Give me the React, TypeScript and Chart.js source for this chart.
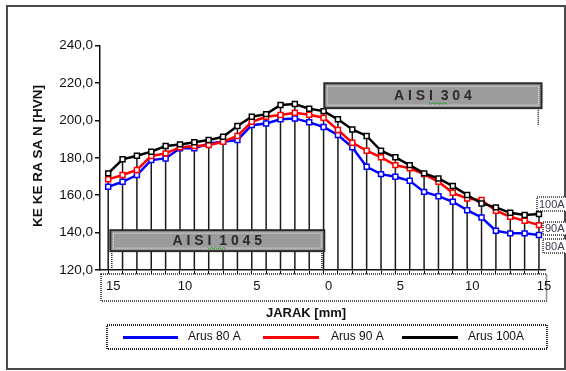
import React, { useEffect, useRef } from 'react';
import { Chart, registerables } from 'chart.js';

Chart.register(...registerables);

// Distance from weld centre [mm] (left: AISI 1045 side, right: AISI 304 side)
const distances = [-15, -14, -13, -12, -11, -10, -9, -8, -7, -6, -5, -4, -3, -2, -1, 0, 1, 2, 3, 4, 5, 6, 7, 8, 9, 10, 11, 12, 13, 14, 15];
const xLabelTicks = [-15, -10, -5, 0, 5, 10, 15];
const yTicks = [120, 140, 160, 180, 200, 220, 240];

const seriesNames = ['Arus 80 A', 'Arus 90 A', 'Arus 100A'];
const seriesColors = ['#0000ff', '#ff0000', '#000000'];
const endLabels = ['80A', '90A', '100A'];

const arus80 = [164.5, 167.2, 170.8, 178.8, 179.7, 185.1, 185.1, 187.7, 188.6, 189.5, 197.5, 198.4, 200.6, 201.1, 199.0, 196.5, 192.2, 185.6, 175.2, 171.3, 169.9, 167.7, 161.8, 159.5, 156.5, 152.0, 148.1, 141.0, 139.6, 139.6, 138.7];
const arus90 = [168.5, 170.8, 173.5, 181.0, 182.4, 185.6, 186.3, 186.8, 188.6, 191.7, 199.3, 202.0, 202.9, 204.1, 203.1, 201.5, 194.9, 188.1, 183.8, 180.3, 176.1, 174.4, 171.3, 167.2, 161.3, 158.3, 157.4, 151.7, 148.5, 146.3, 144.0];
const arus100 = [171.7, 179.2, 181.1, 183.3, 186.3, 187.2, 188.3, 189.5, 191.3, 197.0, 202.0, 203.4, 208.3, 208.8, 206.3, 205.0, 200.6, 195.2, 191.7, 183.8, 180.3, 176.1, 171.7, 169.0, 164.9, 160.1, 155.6, 153.5, 150.6, 149.4, 149.9];

const FONT = '"Liberation Sans", Arial, sans-serif';

function grayBox(ctx: CanvasRenderingContext2D, l: number, t: number, r: number, b: number, text: string) {
  ctx.save();
  ctx.fillStyle = '#9b9b9b';
  ctx.fillRect(l, t, r - l, b - t);
  ctx.setLineDash([]);
  ctx.strokeStyle = '#2a2a2a';
  ctx.lineWidth = 2;
  ctx.strokeRect(l, t, r - l, b - t);
  ctx.setLineDash([1, 1]);
  ctx.strokeStyle = '#f0f0f0';
  ctx.lineWidth = 1;
  ctx.strokeRect(l + 3, t + 3, r - l - 6, b - t - 6);
  ctx.setLineDash([]);
  ctx.font = `bold 14px ${FONT}`;
  ctx.fillStyle = '#2a2a2a';
  ctx.textBaseline = 'middle';
  ctx.textAlign = 'left';
  const cx = (l + r) / 2;
  const cy = (t + b) / 2;
  const w = ctx.measureText(text).width;
  const x0 = cx - w / 2;
  ctx.fillText(text, x0, cy + 0.5);
  // spell-check squiggle under "I  1"
  const parts = text.split('  ');
  const sx = x0 + ctx.measureText(parts[0].slice(0, -1)).width;
  const ex = x0 + ctx.measureText(parts[0] + '  ' + parts[1].charAt(0)).width;
  ctx.strokeStyle = '#2e9e2e';
  ctx.lineWidth = 1;
  ctx.beginPath();
  for (let x = sx, k = 0; x <= ex; x += 2, k++) {
    const y = cy + 7 + (k % 2 === 0 ? 0 : 1.5);
    if (k === 0) ctx.moveTo(x, y); else ctx.lineTo(x, y);
  }
  ctx.stroke();
  ctx.restore();
}

function dottedV(ctx: CanvasRenderingContext2D, x: number, y1: number, y2: number) {
  ctx.save();
  ctx.strokeStyle = '#222';
  ctx.lineWidth = 1.5;
  ctx.setLineDash([1, 1]);
  ctx.beginPath();
  ctx.moveTo(x, y1);
  ctx.lineTo(x, y2);
  ctx.stroke();
  ctx.restore();
}

const decoPlugin = {
  id: 'deco',
  beforeDraw(chart: any) {
    const { ctx } = chart;
    ctx.save();
    ctx.fillStyle = '#ffffff';
    ctx.fillRect(0, 0, chart.width, chart.height);
    ctx.strokeStyle = '#4a4a4a';
    ctx.lineWidth = 2;
    ctx.strokeRect(7, 6, 558, 363);
    ctx.restore();
  },
  beforeDatasetsDraw(chart: any) {
    const { ctx, chartArea } = chart;
    const metas = chart.getSortedVisibleDatasetMetas();
    if (!metas.length) return;
    ctx.save();
    ctx.strokeStyle = '#1a1a1a';
    ctx.lineWidth = 1.5;
    const n = metas[0].data.length;
    for (let i = 0; i < n; i++) {
      let top = Infinity;
      const x = metas[0].data[i].x;
      metas.forEach((m: any) => { top = Math.min(top, m.data[i].y); });
      ctx.beginPath();
      ctx.moveTo(x, top);
      ctx.lineTo(x, chartArea.bottom);
      ctx.stroke();
    }
    ctx.restore();
  },
  afterDraw(chart: any) {
    const { ctx, chartArea } = chart;
    const xs = chart.scales.x;
    const ys = chart.scales.y;
    const px = (v: number) => xs.getPixelForValue(v);
    const py = (v: number) => ys.getPixelForValue(v);

    // material boxes
    grayBox(ctx, px(-14.85), py(141.3), px(0.05), py(130.1), 'A I S I  1 0 4 5');
    grayBox(ctx, px(0.05), py(219.9), px(15.18), py(206.6), 'A I S I  3 0 4');
    dottedV(ctx, px(-14.75), py(130.1), chartArea.bottom);
    dottedV(ctx, px(-0.12), py(130.1), chartArea.bottom);
    dottedV(ctx, px(14.95), py(206.6), py(197.6));

    ctx.save();
    // dotted box around x tick labels
    ctx.strokeStyle = '#222';
    ctx.lineWidth = 1.5;
    ctx.setLineDash([1, 1]);
    ctx.strokeRect(101, chartArea.bottom + 4, chartArea.right + 1.5 - 101, 27);

    // end labels
    ctx.font = `11px ${FONT}`;
    ctx.textBaseline = 'middle';
    ctx.textAlign = 'left';
    const endBoxes = [
      { l: 543, t: 239, b: 253 },
      { l: 543, t: 222, b: 235 },
      { l: 537, t: 197, b: 211 },
    ];
    endBoxes.forEach((bx, i) => {
      ctx.fillStyle = '#ffffff';
      ctx.fillRect(bx.l, bx.t, 30, bx.b - bx.t);
      ctx.strokeStyle = '#333';
      ctx.lineWidth = 1.5;
      ctx.strokeRect(bx.l, bx.t, 30, bx.b - bx.t);
      ctx.fillStyle = '#3a3a50';
      ctx.fillText(endLabels[i], bx.l + 2, (bx.t + bx.b) / 2 + 0.5);
    });

    // legend
    ctx.strokeStyle = '#222';
    ctx.lineWidth = 2;
    ctx.strokeRect(107, 325, 440, 24);
    ctx.setLineDash([]);
    const legendPos = [
      { x1: 123, x2: 178, tx: 188 },
      { x1: 263, x2: 319, tx: 331 },
      { x1: 402, x2: 458, tx: 468 },
    ];
    ctx.font = `12px ${FONT}`;
    legendPos.forEach((p, i) => {
      ctx.strokeStyle = seriesColors[i];
      ctx.lineWidth = 3;
      ctx.beginPath();
      ctx.moveTo(p.x1, 337.5);
      ctx.lineTo(p.x2, 337.5);
      ctx.stroke();
      ctx.fillStyle = '#111';
      ctx.fillText(seriesNames[i], p.tx, 336.5);
    });

    // axis titles
    ctx.fillStyle = '#111';
    ctx.font = `bold 13px ${FONT}`;
    ctx.textAlign = 'center';
    ctx.fillText('JARAK [mm]', 306, 313);
    ctx.translate(38, 156);
    ctx.rotate(-Math.PI / 2);
    ctx.font = `bold 13.5px ${FONT}`;
    ctx.fillText('KE KE RA SA N [HVN]', 0, 0);
    ctx.restore();
  },
};

export default function App() {
  const ref = useRef<HTMLCanvasElement | null>(null);

  useEffect(() => {
    if (!ref.current) return;
    const mk = (vals: number[]) => distances.map((d, i) => ({ x: d, y: vals[i] }));
    const allSeries = [arus80, arus90, arus100];
    const datasets = [2, 1, 0].map((i) => ({
      label: seriesNames[i],
      data: mk(allSeries[i]),
      borderColor: seriesColors[i],
      backgroundColor: '#ffffff',
      borderWidth: 2.5,
      pointStyle: 'rect' as const,
      pointRadius: 3.5,
      pointBorderWidth: 1.5,
      pointBackgroundColor: '#ffffff',
      pointBorderColor: seriesColors[i],
      tension: 0,
    }));

    const chart = new Chart(ref.current, {
      type: 'line',
      data: { datasets },
      options: {
        animation: false,
        responsive: false,
        events: [],
        layout: { padding: { top: 45.7, right: 21, left: 0, bottom: 0 } },
        plugins: { legend: { display: false }, tooltip: { enabled: false }, title: { display: false } },
        scales: {
          x: {
            type: 'linear',
            min: -15.57,
            max: 15.42,
            afterFit: (s: any) => { s.height = 101; },
            afterBuildTicks: (s: any) => { s.ticks = distances.map((v) => ({ value: v })); },
            ticks: {
              autoSkip: false,
              maxRotation: 0,
              minRotation: 0,
              labelOffset: 5,
              padding: 5,
              color: '#111',
              font: { family: FONT, size: 13 },
              callback: (v: any) => (xLabelTicks.includes(Number(v)) ? String(Math.abs(Number(v))) : ''),
            },
            grid: { drawOnChartArea: false, tickLength: 4, color: '#111', lineWidth: 1 },
            border: { color: '#111', width: 1.5 },
          },
          y: {
            type: 'linear',
            min: yTicks[0],
            max: yTicks[yTicks.length - 1],
            afterFit: (s: any) => { s.width = 100; },
            afterBuildTicks: (s: any) => { s.ticks = yTicks.map((v) => ({ value: v })); },
            ticks: {
              padding: 2,
              color: '#111',
              font: { family: FONT, size: 13.5 },
              callback: (v: any) => Number(v).toFixed(1).replace('.', ','),
            },
            grid: { drawOnChartArea: false, tickLength: 5, color: '#111', lineWidth: 1.5 },
            border: { color: '#111', width: 1.5 },
          },
        },
      },
      plugins: [decoPlugin],
    });
    return () => chart.destroy();
  }, []);

  return (
    <div style={{ position: 'fixed', left: 0, top: 0, width: 566, height: 371, background: '#fff' }}>
      <canvas ref={ref} width={566} height={371} style={{ display: 'block' }} />
    </div>
  );
}
